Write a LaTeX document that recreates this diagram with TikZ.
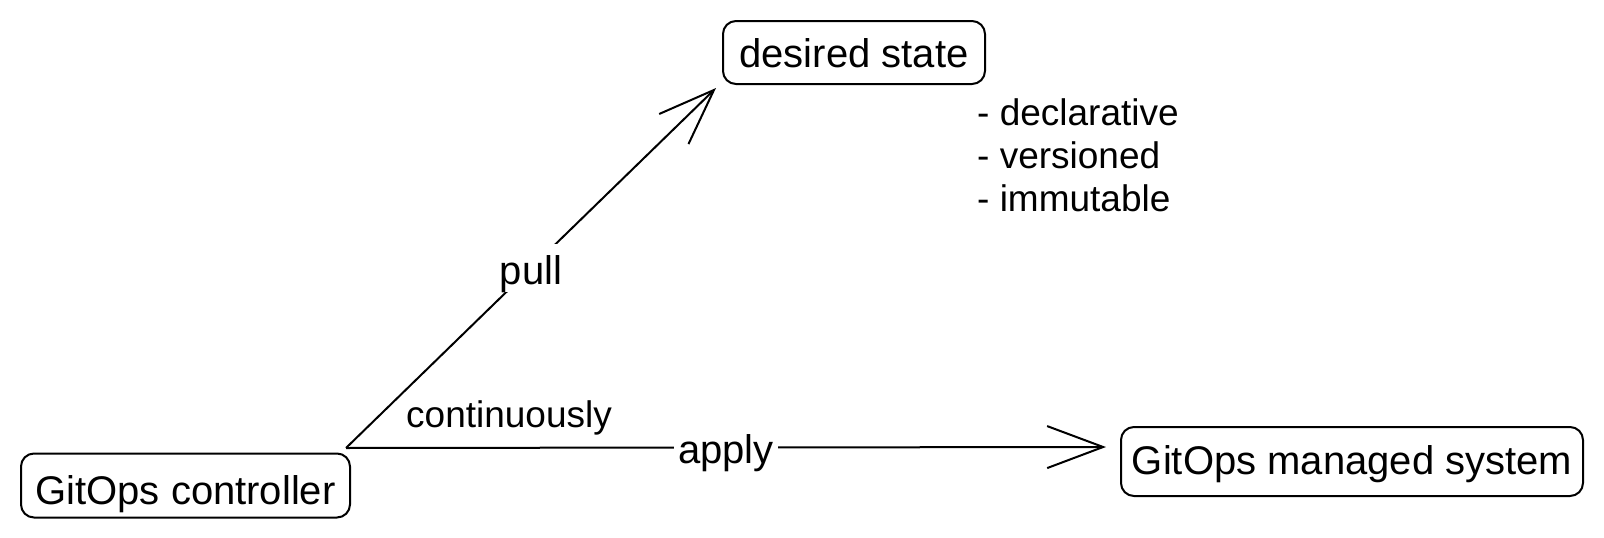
\documentclass[tikz,border=0pt]{standalone}
\usepackage{fontspec}
\setmainfont{Liberation Sans}
\usetikzlibrary{arrows.meta}
\begin{document}
\begin{tikzpicture}[x=1pt,y=-1pt,
  box/.style={draw, line width=2pt, rounded corners=13pt, inner sep=0pt,
    font=\fontsize{40}{48}\selectfont},
  conn/.style={line width=2pt, -{Straight Barb[length=56pt,width=42pt]}},
  lbl/.style={fill=white, inner sep=4pt, text height=36pt, text depth=4pt,
    font=\fontsize{40}{48}\selectfont},
  note/.style={anchor=base west, inner sep=0pt, font=\fontsize{37}{44}\selectfont}]
\useasboundingbox (0,0) rectangle (1604,538);
\node[box, minimum width=329pt, minimum height=64pt, text height=38pt, text depth=1pt] (ctrl) at (185.5,485.5) {GitOps controller};
\node[box, minimum width=262pt, minimum height=63pt, text height=32pt, text depth=3pt] (ds) at (854,52.5) {desired state};
\node[box, minimum width=462pt, minimum height=69pt, text height=30pt, text depth=5pt] (mgd) at (1352,461.5) {GitOps managed system};
\node[note] (l1) at (977,125) {- declarative};
\node[note] (l2) at (977,168) {- versioned};
\node[note] (l3) at (977,211) {- immutable};
\node[note] (cont) at (406,427) {continuously};
\coordinate (src) at ([xshift=-5pt,yshift=4.5pt]ctrl.north east);
\draw[conn] (src) -- node[lbl] (pull) {pull} ([xshift=-6pt,yshift=-3pt]ds.south west);
\draw[conn] (src) -- node[lbl] (apply) {apply} ([xshift=-14pt,yshift=14.5pt]mgd.west);
\end{tikzpicture}
\end{document}
